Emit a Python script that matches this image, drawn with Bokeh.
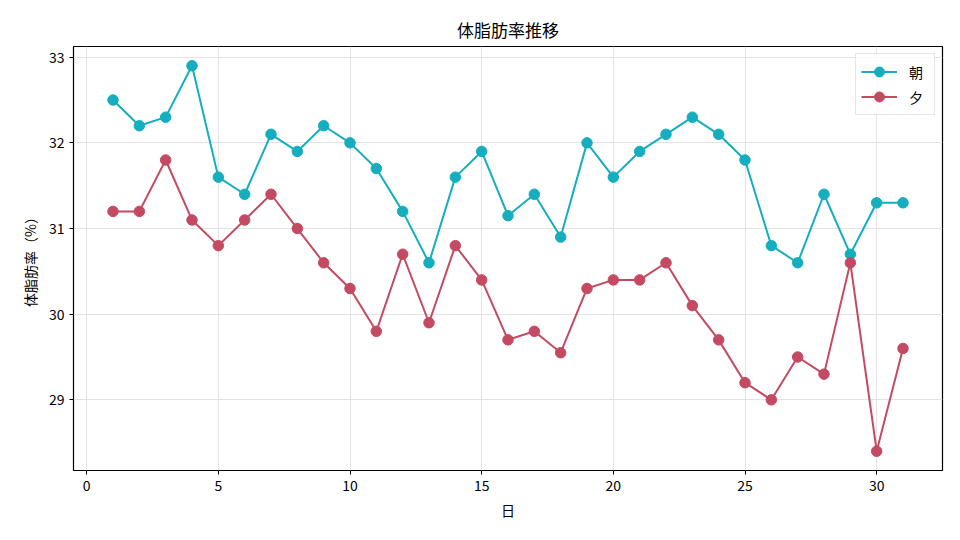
from bokeh.plotting import figure
from bokeh.models import FixedTicker, Range1d
from bokeh.embed import file_html
from bokeh.resources import INLINE

FONT = "Noto Sans CJK JP"

days = list(range(1, 32))
morning = [32.5, 32.2, 32.3, 32.9, 31.6, 31.4, 32.1, 31.9, 32.2, 32.0,
           31.7, 31.2, 30.6, 31.6, 31.9, 31.15, 31.4, 30.9, 32.0, 31.6,
           31.9, 32.1, 32.3, 32.1, 31.8, 30.8, 30.6, 31.4, 30.7, 31.3, 31.3]
evening = [31.2, 31.2, 31.8, 31.1, 30.8, 31.1, 31.4, 31.0, 30.6, 30.3,
           29.8, 30.7, 29.9, 30.8, 30.4, 29.7, 29.8, 29.55, 30.3, 30.4,
           30.4, 30.6, 30.1, 29.7, 29.2, 29.0, 29.5, 29.3, 30.6, 28.4, 29.6]

x_ticks = [0, 5, 10, 15, 20, 25, 30]
y_ticks = [29, 30, 31, 32, 33]

series = [("朝", morning, "#14aebe"), ("夕", evening, "#c44a62")]

p = figure(width=944, height=524, output_backend="svg", toolbar_location=None,
           title="体脂肪率推移",
           x_range=Range1d(-0.5, 32.5), y_range=Range1d(28.175, 33.125),
           min_border_left=73, min_border_right=2, min_border_top=46,
           min_border_bottom=54)

for label, vals, color in series:
    p.line(days, vals, line_color=color, line_width=2, legend_label=label)
    p.scatter(days, vals, size=10.5, fill_color=color, line_color=color,
              legend_label=label)

p.title.text_font = FONT
p.title.text_font_size = "17px"
p.title.text_font_style = "normal"
p.title.align = "center"
p.title.text_color = "black"

p.outline_line_color = "black"
p.outline_line_width = 1.2
p.outline_line_alpha = 1

for ax in (p.xaxis[0], p.yaxis[0]):
    ax.axis_line_color = None
    ax.major_tick_line_color = "black"
    ax.major_tick_out = 4
    ax.major_tick_in = 0
    ax.minor_tick_line_color = None
    ax.major_label_text_font = FONT
    ax.major_label_text_font_size = "14px"
    ax.major_label_text_color = "black"
    ax.axis_label_text_font = FONT
    ax.axis_label_text_font_size = "14px"
    ax.axis_label_text_font_style = "normal"
    ax.axis_label_text_color = "black"

p.xaxis.ticker = FixedTicker(ticks=x_ticks)
p.yaxis.ticker = FixedTicker(ticks=y_ticks)
p.xaxis.axis_label = "日"
p.yaxis.axis_label = "体脂肪率（%）"
p.xaxis.axis_label_standoff = 6
p.yaxis.axis_label_standoff = 6

p.grid.grid_line_color = "#e3e3e3"
p.grid.grid_line_width = 1

p.legend.location = "top_right"
p.legend.margin = 7
p.legend.padding = 5
p.legend.spacing = 0
p.legend.label_text_font = FONT
p.legend.label_text_font_size = "14px"
p.legend.label_text_color = "black"
p.legend.glyph_width = 36
p.legend.glyph_height = 25
p.legend.label_height = 25
p.legend.label_standoff = 12
p.legend.border_line_color = "#cccccc"
p.legend.border_line_width = 1
p.legend.background_fill_alpha = 0.8

open("out.html", "w").write(file_html(p, INLINE))
